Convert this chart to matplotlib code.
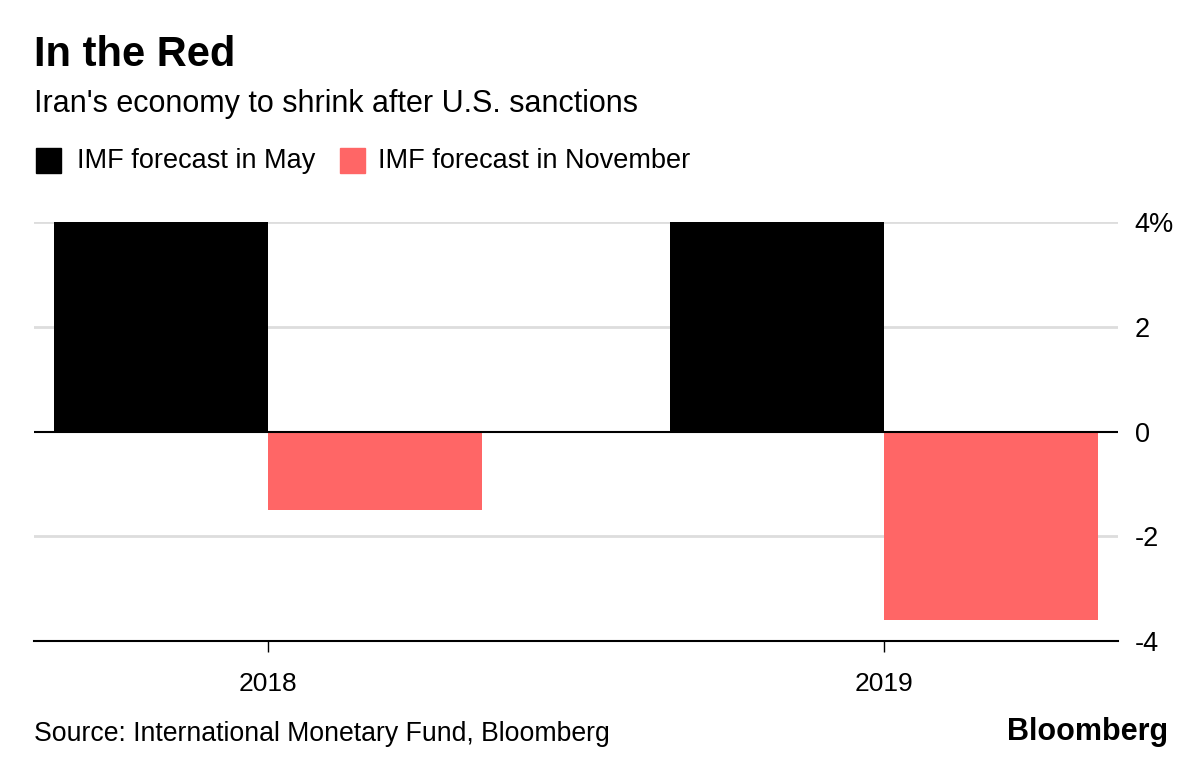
import matplotlib.pyplot as plt
import numpy as np

years = ['2018', '2019']
may = [4.0, 4.0]
november = [-1.5, -3.6]
yticks = [-4, -2, 0, 2, 4]
ytick_labels = ['-4', '-2', '0', '2', '4%']

black = '#000000'
red = '#ff6666'
font = 'Liberation Sans'
plt.rcParams['font.family'] = [font, 'DejaVu Sans']

fig = plt.figure(figsize=(12, 7.64), dpi=100)
ax = fig.add_axes([0.0283, 0.161, 0.9034, 0.5484])

x = np.arange(len(years))
w = 0.347
ax.bar(x - w / 2, may, width=w, color=black, zorder=2)
ax.bar(x + w / 2, november, width=w, color=red, zorder=2)

ax.set_xlim(-0.38, 1.38)
ax.set_ylim(-4, 4)
ax.set_xticks(x)
ax.set_xticklabels(years, fontsize=19)
ax.set_yticks(yticks)
ax.set_yticklabels(ytick_labels, fontsize=19.5)

ax.yaxis.tick_right()
ax.tick_params(axis='y', length=0, pad=12)
ax.tick_params(axis='x', length=8, width=1, color='black', pad=14, direction='out')

for s in ['top', 'left', 'right']:
    ax.spines[s].set_visible(False)
ax.spines['bottom'].set_linewidth(1.5)

for v in yticks:
    if v == 0:
        ax.axhline(v, color='black', lw=1.5, zorder=3)
    elif v != -4:
        ax.axhline(v, color='#dddddd', lw=2, zorder=1)

# header
fig.text(34 / 1200, 1 - 55 / 764, 'In the Red', fontsize=30, fontweight='bold',
         va='center', ha='left')
fig.text(34 / 1200, 1 - 104 / 764, "Iran's economy to shrink after U.S. sanctions",
         fontsize=22, va='center', ha='left')

# legend
legend_items = [('IMF forecast in May', black, 36, 77), ('IMF forecast in November', red, 340, 378)]
for label, c, sx, tx in legend_items:
    fig.patches.append(plt.Rectangle((sx / 1200, 1 - 173 / 764), 25 / 1200, 25 / 764,
                                     transform=fig.transFigure, color=c))
    fig.text(tx / 1200, 1 - 161 / 764, label, fontsize=19.5, va='center', ha='left')

# footer
fig.text(34 / 1200, 1 - 734 / 764, 'Source: International Monetary Fund, Bloomberg',
         fontsize=19.2, va='center', ha='left')
fig.text(1168 / 1200, 1 - 732 / 764, 'Bloomberg', fontsize=22, fontweight='bold',
         va='center', ha='right')

fig.savefig('out.png', dpi=100)
